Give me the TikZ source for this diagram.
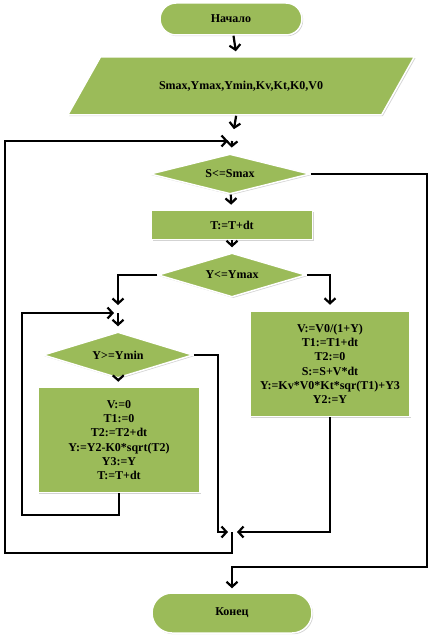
\documentclass[tikz,border=0pt]{standalone}
\usepackage{fontspec}
\setmainfont{Liberation Serif}
\usetikzlibrary{shapes.geometric,shadows,arrows.meta}
\definecolor{olive}{HTML}{9BBB59}
\tikzset{
  x=1pt,y=-1pt,
  base/.style={fill=olive, draw=white, line width=1.5pt, inner sep=2pt,
    font=\fontsize{12}{14.3}\selectfont\bfseries, align=center,
    drop shadow={opacity=0.35, shadow xshift=1.2pt, shadow yshift=-1.2pt, fill=gray}},
  term/.style={base, rectangle, rounded corners=16pt},
  iobox/.style={base, trapezium, trapezium left angle=36, trapezium right angle=144, trapezium stretches=true},
  proc/.style={base, rectangle},
  dec/.style={base, diamond, aspect=4, inner sep=0pt},
  arr/.style={draw=black, line width=2.2pt, -{Straight Barb[length=5pt,width=11pt]}},
}
\begin{document}
\begin{tikzpicture}
\useasboundingbox (0,0) rectangle (433,639);
\node[term, minimum width=142pt, minimum height=32pt] (start) at (231,19) {Начало};
\node[iobox, minimum width=347pt, minimum height=58pt] (in) at (241,86) {Smax,Ymax,Ymin,Kv,Kt,K0,V0};
\coordinate (m1) at (232,141);
\node[dec, minimum width=160pt, minimum height=40pt] (c1) at (230,174) {S<=Smax};
\node[proc, minimum width=161pt, minimum height=29pt] (r1) at (232,225) {T:=T+dt};
\node[dec, minimum width=148pt, minimum height=44pt] (c2) at (232,275) {Y<=Ymax};
\coordinate (m2) at (118,313);
\node[dec, minimum width=150pt, minimum height=46pt] (c3) at (118,355) {Y>=Ymin};
\node[proc, minimum width=162pt, minimum height=105pt] (r2) at (119,440) {V:=0\\T1:=0\\T2:=T2+dt\\Y:=Y2-K0*sqrt(T2)\\Y3:=Y\\T:=T+dt};
\node[proc, minimum width=160pt, minimum height=105pt] (r3) at (330,364) {V:=V0/(1+Y)\\T1:=T1+dt\\T2:=0\\S:=S+V*dt\\Y:=Kv*V0*Kt*sqr(T1)+Y3\\Y2:=Y};
\coordinate (m3) at (232,532);
\node[term, minimum width=160pt, minimum height=40pt, rounded corners=20pt] (end) at (232,613) {Конец};
\coordinate (k1) at (427,567);
\coordinate (k2) at (22,515);
\coordinate (k3) at (218,532);
\coordinate (k4) at (5,553);

\draw[arr, shorten >=5pt] (start) -- (in);
\draw[arr, shorten >=12pt] (in) -- (m1);
\draw[arr, shorten >=6pt] (m1) -- (c1);
\draw[arr, shorten >=4pt] (c1.east) -| (k1) -| (end);
\draw[arr, shorten >=5pt] (c1) -- (r1);
\draw[arr, shorten >=5pt] (r1) -- (c2);
\draw[arr, shorten >=8pt] (c2.west) -| (m2);
\draw[arr, shorten >=5pt] (m2) -- (c3);
\draw[arr, shorten >=5pt] (c3) -- (r2);
\draw[arr, shorten >=4pt] (r2.south) |- (k2) |- (m2);
\draw[arr, shorten >=4pt] (c3.east) -| (k3) -- (m3);
\draw[arr, shorten >=6pt] (c2.east) -| (r3.north);
\draw[arr, shorten >=5pt] (r3.south) |- (m3);
\draw[arr, shorten >=4pt] (m3) |- (k4) |- (m1);
\end{tikzpicture}
\end{document}
